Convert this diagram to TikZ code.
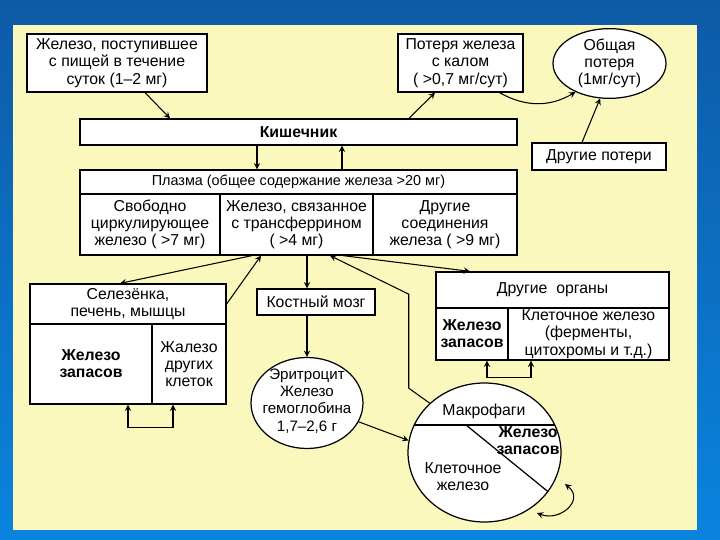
\documentclass[tikz,border=0pt]{standalone}
\usepackage{fontspec}
\setmainfont{Liberation Sans}
\usetikzlibrary{shapes.geometric}

\definecolor{panel}{HTML}{FAF8BC}
\definecolor{frametop}{HTML}{0E5AA6}
\definecolor{framebot}{HTML}{0A84DE}

\begin{document}
\begin{tikzpicture}[x=0.02cm, y=-0.02cm, >=stealth,
  every node/.style={font=\fontsize{9}{9.8}\selectfont},
  box/.style={draw, fill=white, line width=0.7pt, inner sep=1pt, align=center},
  oval/.style={ellipse, draw, fill=white, line width=0.7pt, inner sep=0pt, align=center},
  bold/.style={font=\fontsize{9}{9.8}\selectfont\bfseries},
  link/.style={->, line width=0.6pt}]

\useasboundingbox (0,0) rectangle (720,540);
\shade[top color=frametop, bottom color=framebot] (0,0) rectangle (720,540);
\fill[panel] (13,25) rectangle (697,530);

\node[box, minimum width=3.6cm, minimum height=1.16cm] (food) at (117,63) {Железо, поступившее\\с пищей в течение\\суток (1–2 мг)};
\node[box, bold, minimum width=8.74cm, minimum height=0.52cm] (gut) at (298.5,132) {Кишечник};
\node[box, minimum width=2.5cm, minimum height=1.16cm] (loss) at (460.5,63) {Потеря железа\\с калом\\( >0,7 мг/сут)};
\node[oval, minimum width=2.26cm, minimum height=1.38cm] (total) at (609.5,63.5) {Общая\\потеря\\(1мг/сут)};
\node[box, minimum width=2.68cm, minimum height=0.54cm] (other) at (599,156.5) {Другие потери};

\node[box, minimum width=8.74cm, minimum height=0.48cm, font=\fontsize{8.2}{9.8}\selectfont] (plasma) at (298.5,182) {Плазма (общее содержание железа >20 мг)};
\node[box, minimum width=2.8cm, minimum height=1.22cm] (pl1) at (150,224.5) {Свободно\\циркулирующее\\железо ( >7 мг)};
\node[box, minimum width=3.06cm, minimum height=1.22cm] (pl2) at (296.5,224.5) {Железо, связанное\\с трансферрином\\( >4 мг)};
\node[box, minimum width=2.88cm, minimum height=1.22cm] (pl3) at (445,224.5) {Другие\\соединения\\железа ( >9 мг)};

\node[box, minimum width=3.92cm, minimum height=0.8cm] (spl) at (128,304) {Селезёнка,\\печень, мышцы};
\node[box, bold, minimum width=2.44cm, minimum height=1.6cm] (spl1) at (91,364) {Железо\\запасов};
\node[box, minimum width=1.48cm, minimum height=1.6cm] (spl2) at (189,364) {Жалезо\\других\\клеток};

\node[box, minimum width=2.36cm, minimum height=0.52cm] (bone) at (316,302) {Костный мозг};
\node[oval, minimum width=2.24cm, minimum height=1.82cm] (ery) at (307,403) {};
\node[align=center, font=\fontsize{8.6}{9.8}\selectfont] (erytext) at (307,401) {Эритроцит\\Железо\\гемоглобина\\1,7–2,6 г};

\node[box, minimum width=4.66cm, minimum height=0.72cm] (org) at (552.5,290) {Другие\ \ органы};
\node[box, bold, minimum width=1.44cm, minimum height=1.04cm] (org1) at (472,334) {Железо\\запасов};
\node[box, minimum width=3.22cm, minimum height=1.04cm] (org2) at (588.5,334) {Клеточное железо\\(ферменты,\\цитохромы и т.д.)};

\node[oval, minimum width=3.06cm, minimum height=2.78cm] (mac) at (484.5,452.5) {};
\begin{scope}
  \clip (mac.center) ellipse [x radius=1.53cm, y radius=1.39cm];
  \draw[line width=0.7pt] (400,425) -- (570,425);
  \draw[line width=0.7pt] (466,425) -- (570,509.5);
\end{scope}
\node (macname) at (484,411) {Макрофаги};
\node[bold, align=center] (macstore) at (528,441) {Железо\\запасов};
\node[align=center] (maccell) at (463,477) {Клеточное\\железо};

\draw[link] ([xshift=0.56cm]food.south) -- ([xshift=-2.57cm]gut.north);
\draw[link] ([xshift=2.21cm]gut.north) -- ([xshift=-0.51cm]loss.south);
\draw[link] ([xshift=0.78cm]loss.south) to[bend right=30] (total.220);
\draw[link] ([xshift=-0.34cm]other.north) -- (total.255);
\draw[link] ([xshift=-0.83cm]gut.south) -- ([xshift=-0.83cm]plasma.north);
\draw[link] ([xshift=0.87cm]plasma.north) -- ([xshift=0.87cm]gut.south);

\draw[link] ([xshift=-0.89cm]pl2.south) -- ([xshift=-0.16cm]spl.north);
\draw[link] (spl.east) -- ([xshift=-0.71cm]pl2.south);
\draw[link] (pl2.south -| ery.north) -- (bone.north -| ery.north);
\draw[link] (bone.south -| ery.north) -- (ery.north);
\draw[link] (mac.138) -- ++(-21,-15) -- ++(0,-94) -- ([xshift=0.67cm]pl2.south);
\draw[link] ([xshift=0.93cm]pl2.south) -- ([xshift=-1.65cm]org.north);
\draw[link] (ery.-20) -- (mac.171);

\draw[<->, line width=0.6pt] ([xshift=0.74cm]spl1.south) -- ++(0,23) -| ([xshift=-0.32cm]spl2.south);
\draw[<->, line width=0.6pt] ([xshift=0.3cm]org1.south) -- ++(0,17) -| ([xshift=-1.15cm]org2.south);

\coordinate (loopA) at (537,513);
\coordinate (loopB) at (565,484);
\draw[<->, line width=0.6pt] (loopA) .. controls (560,522) and (585,500) .. (loopB);

\end{tikzpicture}
\end{document}
